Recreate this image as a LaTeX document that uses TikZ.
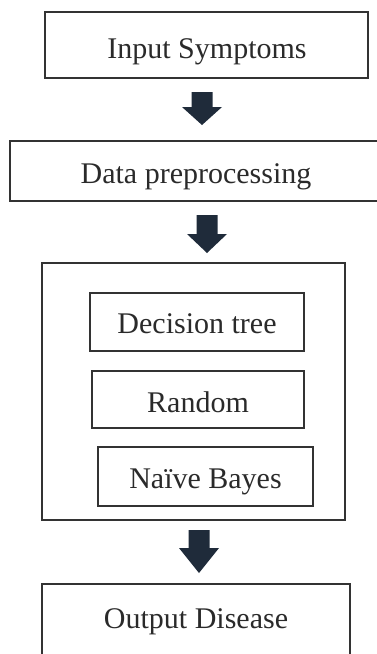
\documentclass[tikz,border=0pt]{standalone}
\usepackage{fontspec}
\setmainfont{Liberation Serif}
\definecolor{boxline}{HTML}{333333}
\definecolor{txt}{HTML}{2A2A2A}
\definecolor{arrowfill}{HTML}{1F2B3A}
\begin{document}
\begin{tikzpicture}[x=1pt,y=-1pt,
  box/.style={draw=boxline,line width=2.2pt,rectangle,inner sep=0pt},
  lbl/.style={inner sep=0pt,anchor=base,font=\fontsize{30}{32}\selectfont,text=txt}]
\useasboundingbox (0,0) rectangle (377,654);
\clip (0,0) rectangle (377,654);
% boxes
\node[box,minimum width=323pt,minimum height=66pt] (input) at (206.5,45) {};
\node[box,minimum width=372pt,minimum height=60pt] (prep) at (196,171) {};
\node[box,minimum width=303pt,minimum height=257pt] (models) at (193.5,391.5) {};
\node[box,minimum width=214pt,minimum height=58pt] (dt) at (197,322) {};
\node[box,minimum width=212pt,minimum height=57pt] (rf) at (198,399.5) {};
\node[box,minimum width=215pt,minimum height=59pt] (nb) at (205.5,476.5) {};
\node[box,minimum width=308pt,minimum height=100pt,anchor=north] (out) at (196,583) {};
% labels
\node[lbl] (inputtxt) at (207,58) {Input Symptoms};
\node[lbl] (preptxt) at (196,183) {Data preprocessing};
\node[lbl] (dttxt) at (197,333) {Decision tree};
\node[lbl] (rftxt) at (198,412) {Random};
\node[lbl] (nbtxt) at (205.5,488) {Na\"{\i}ve Bayes};
\node[lbl] (outtxt) at (196,628) {Output Disease};
% block arrows
\newcommand{\blkarrow}[4]{% center x, top y, head y, tip y
  \fill[arrowfill] (#1-10.5,#2) -- (#1+10.5,#2) -- (#1+10.5,#3) -- (#1+20,#3)
    -- (#1,#4) -- (#1-20,#3) -- (#1-10.5,#3) -- cycle;}
\blkarrow{202}{92}{107}{125}
\blkarrow{207}{215}{234}{253}
\blkarrow{199}{530}{548}{573}
\end{tikzpicture}
\end{document}
